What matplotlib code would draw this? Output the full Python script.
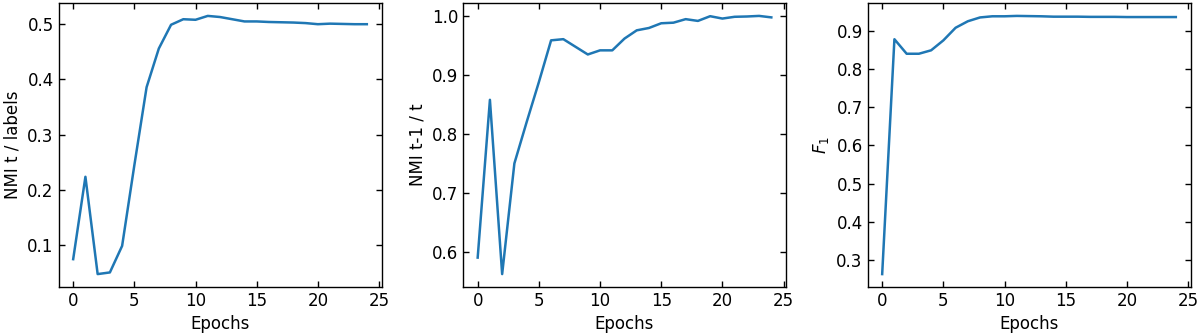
import matplotlib
matplotlib.use("Agg")
import matplotlib.pyplot as plt
import numpy as np

epochs = list(range(25))
nmi_labels = [0.075, 0.224, 0.048, 0.051, 0.099, 0.245, 0.386, 0.456, 0.499, 0.509,
              0.508, 0.515, 0.513, 0.509, 0.505, 0.505, 0.504, 0.5035, 0.503, 0.502,
              0.500, 0.501, 0.5005, 0.500, 0.500]
nmi_prev = [0.590, 0.858, 0.562, 0.750, 0.820, 0.888, 0.959, 0.961, 0.948, 0.935,
            0.942, 0.942, 0.962, 0.976, 0.980, 0.988, 0.989, 0.995, 0.992, 1.000,
            0.996, 0.999, 0.9995, 1.0005, 0.998]
f1 = [0.2635, 0.878, 0.840, 0.840, 0.849, 0.875, 0.908, 0.925, 0.935, 0.938,
      0.938, 0.939, 0.9385, 0.938, 0.937, 0.937, 0.937, 0.9365, 0.9365, 0.9365,
      0.936, 0.936, 0.936, 0.936, 0.936]

series = [nmi_labels, nmi_prev, f1]
ylabels = ["NMI t / labels", "NMI t-1 / t", "$F_1$"]
lefts = [58.5 / 1200, 463 / 1200, 867.5 / 1200]

fig = plt.figure(figsize=(12, 3.36), dpi=100)
for vals, yl, l in zip(series, ylabels, lefts):
    ax = fig.add_axes([l, 49 / 336, 323 / 1200, 284 / 336])
    ax.plot(epochs, vals, color="#1f77b4", lw=1.8)
    ax.set_xlabel("Epochs", fontsize=12, labelpad=4)
    ax.set_ylabel(yl, fontsize=12)
    ax.tick_params(direction="in", top=True, right=True, labelsize=12,
                   length=4.2, width=1.0)
    for s in ax.spines.values():
        s.set_linewidth(1.0)
    ax.set_xticks([0, 5, 10, 15, 20, 25])

fig.savefig("out.png", dpi=100)
